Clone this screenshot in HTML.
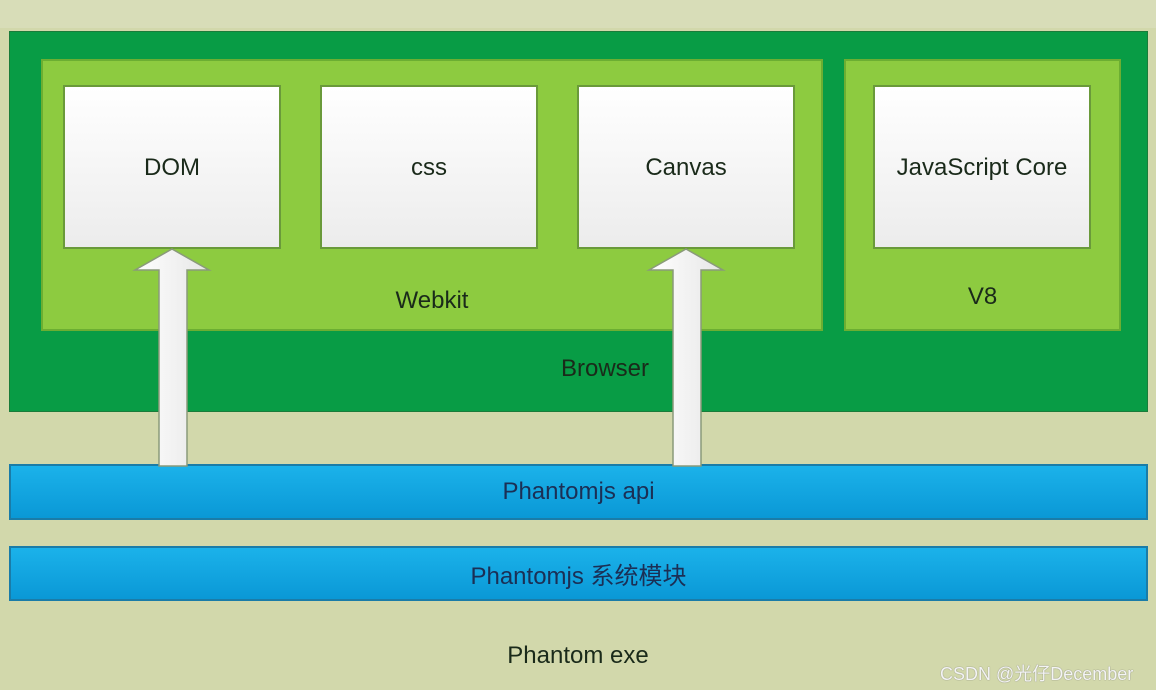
<!DOCTYPE html>
<html><head><meta charset="utf-8"><style>
body{margin:0;width:1156px;height:690px;background:#d2d8ab;position:relative;overflow:hidden;font-family:"Liberation Sans","Noto Sans CJK SC",sans-serif;color:#1a2a1a}
div{position:absolute;box-sizing:border-box}
.t{text-align:center;font-size:24px}
.w{background:linear-gradient(#ffffff,#ececec);border:2px solid #6a9a3a;display:flex;align-items:center;justify-content:center;font-size:24px;top:85px;height:164px;width:218px;padding-top:2px}
.lg{background:#8dcb40;border:2px solid #6cae32;top:59px;height:272px}
.bl{background:linear-gradient(#1bb2ea,#0a98d6);border:2px solid #1a7ca8;left:9px;width:1139px;display:flex;align-items:center;justify-content:center;font-size:24px;color:#1b2f55}
</style></head><body>
<div style="left:0;top:0;width:1156px;height:28px;background:#d8ddb8"></div>
<div style="left:9px;top:31px;width:1139px;height:381px;background:#089c45;border:1px solid #1a7c3a"></div>
<div class="lg" style="left:41px;width:782px"></div>
<div class="lg" style="left:844px;width:277px"></div>
<div class="w" style="left:63px">DOM</div>
<div class="w" style="left:320px">css</div>
<div class="w" style="left:577px">Canvas</div>
<div class="w" style="left:873px">JavaScript Core</div>
<div class="t" style="left:41px;width:782px;top:287px">Webkit</div>
<div class="t" style="left:844px;width:277px;top:283px">V8</div>
<div class="t" style="left:9px;width:1192px;top:355px">Browser</div>
<div class="bl" style="top:464px;height:56px">Phantomjs api</div>
<div class="bl" style="top:546px;height:55px">Phantomjs 系统模块</div>
<div class="t" style="left:0;width:1156px;top:642px">Phantom exe</div>
<div style="left:940px;top:660px;font-size:18px;color:#f4f4f4;text-shadow:0 0 1px #666">CSDN @光仔December</div>
<svg style="position:absolute;left:0;top:0" width="1156" height="690">
<defs><linearGradient id="g" x1="0" x2="1"><stop offset="0" stop-color="#fff"/><stop offset="1" stop-color="#e6e6e6"/></linearGradient></defs>
<polygon points="172,249 209,270 187,270 187,466 159,466 159,270 135,270" fill="url(#g)" stroke="#8a9a7a" stroke-width="1.5"/>
<polygon points="686,249 723,270 701,270 701,466 673,466 673,270 649,270" fill="url(#g)" stroke="#8a9a7a" stroke-width="1.5"/>
</svg>
</body></html>
